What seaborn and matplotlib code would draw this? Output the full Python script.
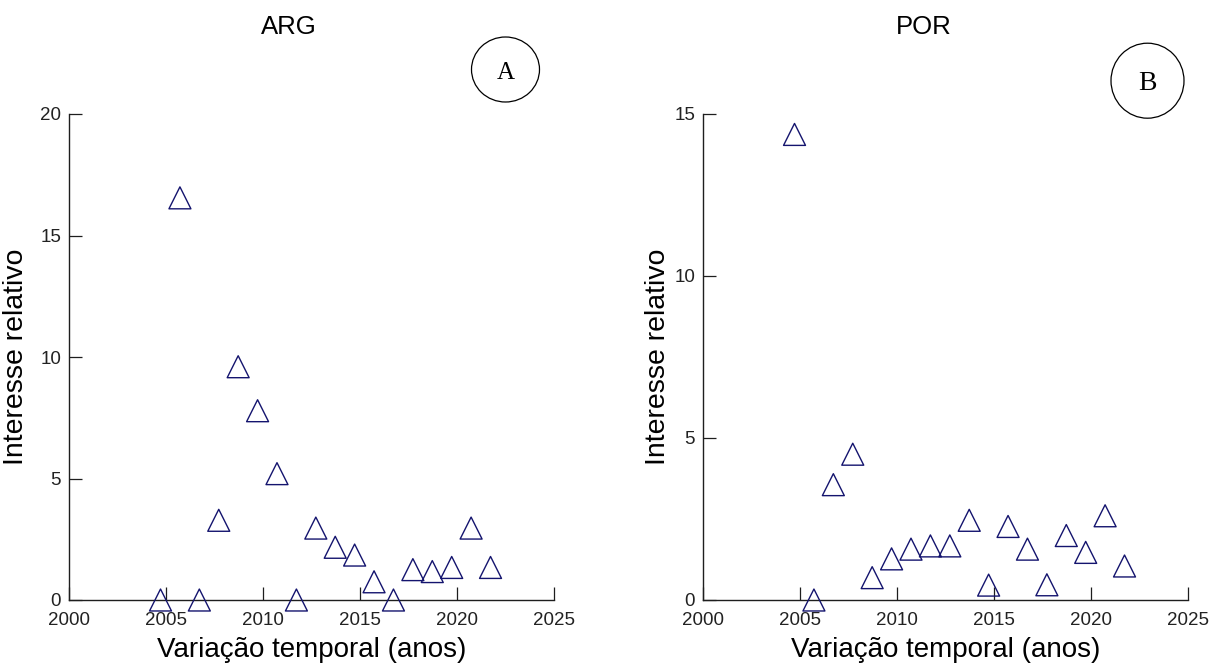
import matplotlib
matplotlib.use("Agg")
import matplotlib.pyplot as plt
from matplotlib.patches import Ellipse
import pandas as pd
import seaborn as sns

# Observation positions on the time axis (one per year, 2005-2022)
anos = [2004.73, 2005.73, 2006.73, 2007.73, 2008.73, 2009.73, 2010.73, 2011.73, 2012.73,
        2013.73, 2014.73, 2015.73, 2016.73, 2017.73, 2018.73, 2019.73, 2020.73, 2021.73]

# Relative interest, Argentina
interesse_arg = [0.0, 16.55, 0.0, 3.28, 9.6, 7.79, 5.2, 0.0, 2.96,
                 2.17, 1.85, 0.75, 0.0, 1.25, 1.17, 1.34, 2.96, 1.34]

# Relative interest, Portugal
interesse_por = [14.37, 0.0, 3.56, 4.5, 0.69, 1.27, 1.57, 1.67, 1.67,
                 2.46, 0.46, 2.27, 1.57, 0.47, 1.99, 1.47, 2.6, 1.05]

paises = ["ARG", "POR"]
letras = ["A", "B"]
xticks = [2000, 2005, 2010, 2015, 2020, 2025]
yticks_arg = [0, 5, 10, 15, 20]
yticks_por = [0, 5, 10, 15]

sns.set_style("ticks")
plt.rcParams["font.family"] = ["Liberation Sans", "DejaVu Sans"]
plt.rcParams["text.color"] = "black"
plt.rcParams["axes.labelcolor"] = "black"

W, H = 1222, 666
fig = plt.figure(figsize=(W / 100, H / 100), dpi=100)
ax_a = fig.add_axes([68.7 / W, 66 / H, 485.3 / W, 486 / H])
ax_b = fig.add_axes([702.7 / W, 66 / H, 485.3 / W, 486 / H])

axis_color = "#1e1e1e"
marker_color = "#14146e"

configs = [
    (ax_a, interesse_arg, yticks_arg, -0.0818),
    (ax_b, interesse_por, yticks_por, -0.0653),
]

for ax, valores, yticks, ylab_x in configs:
    df = pd.DataFrame({"ano": anos, "interesse": valores})
    sns.scatterplot(data=df, x="ano", y="interesse", ax=ax, marker="^", s=250,
                    facecolor="none", edgecolor=marker_color, linewidth=1.0,
                    clip_on=False, zorder=3, legend=False)
    ax.set_xlim(xticks[0], xticks[-1])
    ax.set_ylim(yticks[0], yticks[-1])
    ax.set_xticks(xticks)
    ax.set_yticks(yticks)
    sns.despine(ax=ax)
    for side in ("left", "bottom"):
        ax.spines[side].set_color(axis_color)
        ax.spines[side].set_linewidth(1.0)
    ax.tick_params(axis="both", direction="in", length=9.4, width=0.9,
                   color=axis_color, labelcolor="#222222", labelsize=13.5,
                   bottom=True, left=True, top=False, right=False)
    ax.tick_params(axis="x", pad=8.6)
    ax.tick_params(axis="y", pad=5.5)
    ax.set_xlabel("Variação temporal (anos)", fontsize=20)
    ax.set_ylabel("Interesse relativo", fontsize=20.5)
    ax.xaxis.set_label_coords(0.5, -0.0755)
    ax.yaxis.set_label_coords(ylab_x, 0.5)
    ax.grid(False)

# Panel titles
fig.text(289 / W, 1 - 33.5 / H, paises[0], ha="center", va="baseline", fontsize=18.5)
fig.text(924 / W, 1 - 33.5 / H, paises[1], ha="center", va="baseline", fontsize=18.5)

# Panel identifiers inside circles
for (cx, cy, w, h, base, fs), letra in zip(
        [(505.5, 69.5, 68, 65, 79.3, 18), (1147.5, 80.7, 73, 75, 90.0, 20)], letras):
    fig.add_artist(Ellipse((cx / W, 1 - cy / H), w / W, h / H,
                           transform=fig.transFigure, fill=False,
                           edgecolor="black", linewidth=0.9))
    fig.text(cx / W, 1 - base / H, letra, ha="center", va="baseline",
             fontsize=fs, family=["Liberation Serif", "DejaVu Serif"])

fig.savefig("out.png", dpi=100)
